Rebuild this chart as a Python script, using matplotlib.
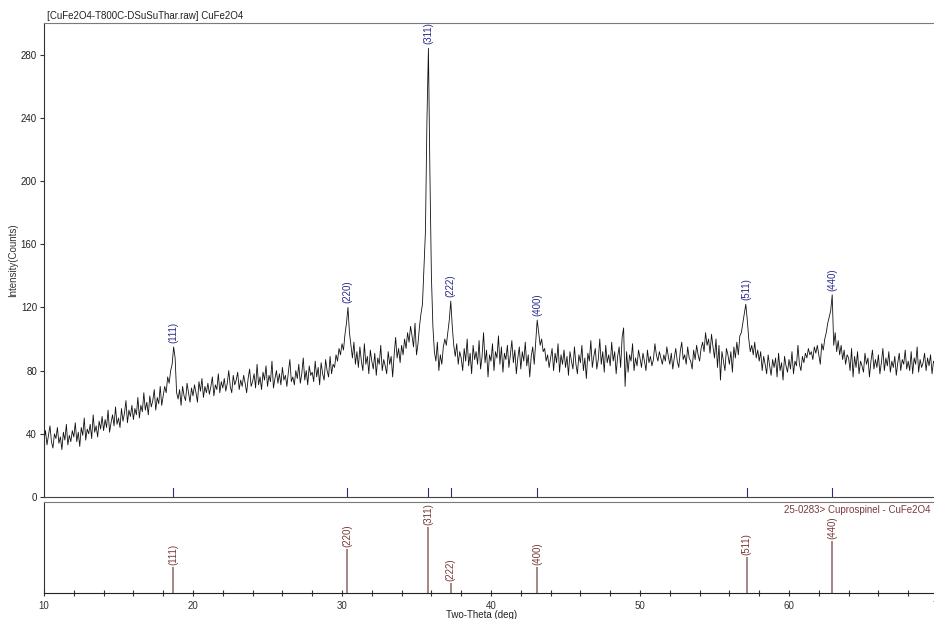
import numpy as np
import matplotlib
matplotlib.use("Agg")
import matplotlib.pyplot as plt

plt.rcParams['font.family'] = ['Liberation Sans', 'DejaVu Sans']
plt.rcParams['font.size'] = 7

# Varredura: 10.0 a 69.9 graus, passo 0.1 (uma linha por grau)
two_theta_start = 10.0
two_theta_step = 0.1
counts = [
    36, 42, 33, 39, 45, 35, 31, 40, 37, 44,   # 10
    34, 38, 30, 41, 36, 46, 33, 39, 35, 42,   # 11
    38, 47, 35, 41, 32, 44, 39, 50, 36, 43,   # 12
    40, 46, 37, 52, 41, 45, 38, 48, 43, 51,   # 13
    42, 49, 44, 55, 41, 47, 52, 45, 57, 46,   # 14
    50, 44, 56, 48, 53, 61, 47, 55, 51, 58,   # 15
    49, 56, 52, 63, 50, 58, 54, 66, 55, 60,   # 16
    52, 64, 57, 61, 68, 55, 63, 59, 70, 58,   # 17
    64, 70, 66, 76, 72, 80, 84, 95, 88, 66,   # 18
    62, 68, 58, 70, 64, 61, 72, 66, 60, 69,   # 19
    64, 71, 66, 60, 73, 67, 75, 63, 70, 66,   # 20
    72, 65, 70, 76, 64, 71, 68, 78, 66, 73,   # 21
    69, 75, 67, 72, 80, 70, 66, 77, 71, 74,   # 22
    79, 68, 74, 70, 77, 72, 66, 75, 81, 70,   # 23
    73, 78, 69, 84, 71, 76, 68, 79, 74, 83,   # 24
    70, 77, 73, 86, 69, 75, 80, 72, 78, 71,   # 25
    82, 74, 77, 70, 79, 87, 73, 76, 71, 80,   # 26
    75, 84, 72, 78, 88, 74, 80, 71, 83, 77,   # 27
    79, 73, 86, 76, 82, 71, 85, 78, 74, 87,   # 28
    80, 76, 89, 78, 84, 82, 90, 86, 94, 90,   # 29
    97, 93, 103, 110, 120, 104, 96, 88, 98, 84,   # 30
    92, 82, 95, 86, 80, 97, 84, 89, 78, 93,   # 31
    86, 81, 91, 77, 88, 84, 96, 80, 87, 83,   # 32
    78, 92, 84, 89, 76, 90, 101, 88, 94, 85,  # 33
    96, 90, 100, 94, 104, 98, 108, 102, 95, 110,  # 34
    90, 97, 108, 116, 122, 145, 168, 238, 284, 205,  # 35
    140, 108, 92, 86, 98, 80, 90, 84, 95, 100,  # 36
    96, 104, 112, 124, 108, 96, 89, 97, 84, 92,  # 37
    88, 80, 94, 86, 100, 83, 91, 78, 96, 87,  # 38
    92, 84, 99, 81, 89, 104, 85, 93, 76, 90,  # 39
    86, 97, 80, 92, 88, 102, 84, 95, 79, 91,  # 40
    87, 96, 82, 90, 99, 85, 93, 78, 88, 95,   # 41
    81, 92, 86, 98, 83, 90, 76, 89, 95, 84,   # 42
    98, 112, 104, 96, 100, 92, 94, 86, 90, 82,  # 43
    88, 94, 80, 91, 85, 97, 79, 90, 84, 93,   # 44
    82, 89, 77, 92, 86, 81, 95, 84, 78, 90,   # 45
    85, 96, 80, 88, 75, 91, 86, 99, 82, 89,   # 46
    94, 81, 87, 100, 84, 92, 79, 96, 85, 90,  # 47
    83, 98, 86, 92, 78, 89, 95, 82, 101, 107,  # 48
    70, 92, 79, 90, 86, 97, 80, 88, 83, 93,   # 49
    88, 82, 91, 86, 80, 93, 85, 89, 83, 87,   # 50
    97, 90, 86, 92, 88, 84, 90, 86, 95, 89,   # 51
    84, 91, 81, 88, 94, 86, 82, 92, 98, 87,   # 52
    90, 84, 95, 88, 86, 81, 93, 87, 96, 90,   # 53
    86, 94, 98, 92, 104, 96, 100, 91, 103, 95,  # 54
    88, 100, 82, 96, 74, 92, 86, 80, 94, 90,  # 55
    84, 92, 79, 95, 88, 98, 90, 102, 104, 110,  # 56
    116, 122, 112, 100, 92, 96, 90, 98, 88, 93,  # 57
    86, 92, 80, 89, 84, 78, 90, 83, 77, 87,   # 58
    82, 88, 76, 91, 80, 85, 74, 89, 83, 79,   # 59
    87, 81, 92, 78, 86, 83, 96, 84, 80, 89,   # 60
    85, 91, 88, 94, 90, 92, 87, 95, 91, 96,   # 61
    90, 84, 97, 93, 100, 104, 110, 114, 118, 128,  # 62
    96, 104, 92, 99, 90, 96, 87, 93, 84, 90,  # 63
    88, 80, 94, 76, 89, 82, 92, 78, 86, 83,   # 64
    79, 91, 84, 88, 76, 86, 93, 81, 87, 82,   # 65
    90, 78, 85, 94, 80, 88, 83, 92, 79, 86,   # 66
    82, 89, 77, 85, 91, 80, 87, 84, 93, 81,   # 67
    86, 80, 92, 78, 88, 84, 95, 79, 87, 82,   # 68
    85, 91, 80, 88, 83, 90, 78, 86, 84, 89,   # 69
]

# Ficha 25-0283 (Cuprospinel)
hkl = ["(111)", "(220)", "(311)", "(222)", "(400)", "(511)", "(440)"]
ref_pos = [18.65, 30.35, 35.8, 37.3, 43.1, 57.15, 62.9]
ref_int = [39, 67, 100, 15, 39, 55, 79]

title_txt = "[CuFe2O4-T800C-DSuSuThar.raw] CuFe2O4"
card_txt = "25-0283> Cuprospinel - CuFe2O4"

tt = two_theta_start + two_theta_step * np.arange(len(counts))
y = np.array(counts)

blue = "#2b2b8c"
brown = "#7a3a3a"
stick = "#8a6666"
frame = "#7a7a7a"

fig = plt.figure(figsize=(9.34, 6.19), dpi=100)
W, H = 934.0, 619.0
ax = fig.add_axes([44/W, 1-497/H, 894/W, 474/H])
ax2 = fig.add_axes([44/W, 1-593/H, 894/W, 91/H])

# painel superior - padrão medido
ax.plot(tt, y, color="#111111", lw=0.6)
ax.set_xlim(10, 70)
ax.set_ylim(0, 300)
ax.set_yticks(np.arange(0, 281, 40))
ax.set_xticks([])
ax.tick_params(axis="y", direction="out", length=3, width=0.8, pad=2, colors="#333333", labelcolor="#222222")
for s in ["top", "right"]:
    ax.spines[s].set_color(frame)
ax.spines["left"].set_color("#333333")
ax.spines["bottom"].set_color("#444444")
ax.set_ylabel("Intensity(Counts)", color="#333333")
ax.yaxis.set_label_coords(-26/894, 0.5)

for lab, p in zip(hkl, ref_pos):
    ax.plot([p, p], [0, 5.5], color=blue, lw=0.8)
    near = (tt > p - 0.3) & (tt < p + 0.3)
    ax.annotate(lab, (p, y[near].max()), xytext=(0, 3), textcoords="offset points",
                rotation=90, ha="center", va="bottom", color=blue, fontsize=7)

fig.text(47/W, 1-19/H, title_txt, ha="left", va="baseline", color="#222222", fontsize=7)

# painel inferior - ficha de referência
ax2.vlines(ref_pos, 0, ref_int, color=stick, lw=1.1)
for lab, p, v in zip(hkl, ref_pos, ref_int):
    ax2.annotate(lab, (p, v), xytext=(0, 1.5), textcoords="offset points",
                 rotation=90, ha="center", va="bottom", color=brown, fontsize=7)
ax2.set_xlim(10, 70)
ax2.set_ylim(0, 138)
ax2.set_yticks([])
ax2.set_xticks(np.arange(10, 71, 10))
ax2.set_xticks(np.arange(10, 70, 2), minor=True)
ax2.tick_params(axis="x", which="both", direction="inout", length=5, width=0.8, pad=3, colors="#333333")
for s in ["top", "right"]:
    ax2.spines[s].set_color(frame)
ax2.spines["left"].set_color("#333333")
ax2.spines["bottom"].set_color("#222222")
ax2.set_xlabel("Two-Theta (deg)", color="#222222")
ax2.xaxis.set_label_coords(0.49, -0.19)
fig.text(931/W, 1-510/H, card_txt, ha="right", va="center", color=brown, fontsize=7)

fig.savefig("out.png", dpi=100)
